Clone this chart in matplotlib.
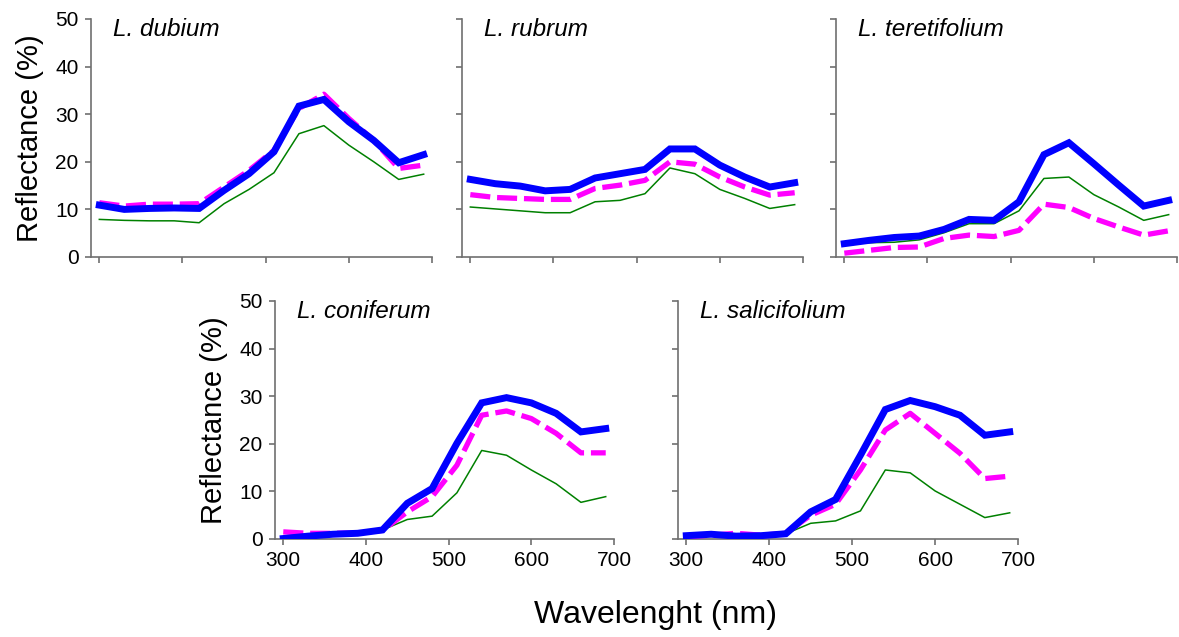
import matplotlib
matplotlib.use("Agg")
import matplotlib.pyplot as plt

plt.rcParams["font.family"] = ["Liberation Sans", "DejaVu Sans"]

wavelength = [300, 330, 360, 390, 420, 450, 480, 510, 540, 570, 600, 630, 660, 690]

species = ["L. dubium", "L. rubrum", "L. teretifolium", "L. coniferum", "L. salicifolium"]

# series per species: thick blue, dashed magenta, thin green
blue = [
    [10.9, 10.0, 10.2, 10.3, 10.2, 14.0, 17.5, 22.1, 31.7, 33.1, 28.4, 24.5, 19.8, 21.5],
    [16.3, 15.4, 14.9, 13.9, 14.2, 16.6, 17.5, 18.4, 22.7, 22.7, 19.3, 16.8, 14.7, 15.6],
    [2.8, 3.5, 4.1, 4.4, 5.8, 7.9, 7.7, 11.6, 21.5, 24.0, 19.6, 15.1, 10.7, 11.9],
    [0.1, 0.6, 1.0, 1.2, 1.9, 7.5, 10.6, 20.1, 28.6, 29.7, 28.6, 26.4, 22.5, 23.2],
    [0.7, 1.0, 0.6, 0.7, 1.1, 5.7, 8.3, 17.6, 27.2, 29.1, 27.8, 26.0, 21.8, 22.5],
]
magenta = [
    [11.4, 10.7, 11.1, 11.1, 11.2, 14.7, 18.2, 22.4, 31.2, 34.2, 29.1, 24.5, 18.6, 19.3],
    [13.1, 12.5, 12.3, 12.1, 12.1, 14.4, 15.1, 16.1, 20.0, 19.5, 16.8, 14.7, 13.0, 13.5],
    [0.8, 1.4, 2.0, 2.1, 3.9, 4.6, 4.3, 5.6, 11.1, 10.4, 8.1, 6.3, 4.6, 5.5],
    [1.5, 1.2, 1.2, 1.3, 1.8, 5.7, 8.9, 15.5, 26.0, 26.9, 25.3, 22.2, 18.1, 18.1],
    [0.5, 0.8, 1.2, 0.8, 1.2, 5.0, 7.3, 14.5, 22.9, 26.4, 22.2, 18.0, 12.7, 13.2],
]
green = [
    [7.9, 7.7, 7.6, 7.6, 7.2, 11.2, 14.2, 17.7, 25.9, 27.6, 23.5, 20.0, 16.3, 17.4],
    [10.5, 10.1, 9.7, 9.3, 9.3, 11.6, 11.9, 13.3, 18.7, 17.5, 14.2, 12.3, 10.2, 11.0],
    [2.8, 3.0, 3.1, 3.6, 5.1, 7.0, 7.0, 9.7, 16.5, 16.8, 13.1, 10.5, 7.7, 8.9],
    [0.1, 0.6, 1.0, 1.2, 1.9, 4.1, 4.8, 9.7, 18.6, 17.6, 14.5, 11.6, 7.7, 8.9],
    [0.5, 0.6, 0.5, 0.6, 1.1, 3.3, 3.8, 5.9, 14.5, 13.9, 10.1, 7.3, 4.5, 5.5],
]

x_ticks = [300, 400, 500, 600, 700]
y_ticks = [0, 10, 20, 30, 40, 50]

W, H = 1179, 637
fig = plt.figure(figsize=(W / 100, H / 100), dpi=100)

# axes boxes in pixels: left, right, top, bottom
boxes = [
    (91, 432, 19, 257),
    (462, 803, 19, 257),
    (836, 1177, 19, 257),
    (275, 614, 301, 539),
    (678, 1018, 301, 539),
]
show_ylabels = [True, False, False, True, False]
show_xlabels = [False, False, False, True, True]

for i, (l, r, t, b) in enumerate(boxes):
    ax = fig.add_axes([l / W, 1 - b / H, (r - l) / W, (b - t) / H])

    ax.plot(wavelength, green[i], color="#008000", linewidth=1.1, zorder=2)
    ax.plot(wavelength, magenta[i], color="#ff00ff", linewidth=3.8,
            linestyle=(0, (3.8, 1.3)), dash_capstyle="butt", zorder=3)
    ax.plot(wavelength, blue[i], color="#0000ff", linewidth=5.0,
            solid_joinstyle="miter", zorder=4)

    ax.set_xlim(290, 700)
    ax.set_ylim(0, 50)
    ax.set_xticks(x_ticks)
    ax.set_yticks(y_ticks)
    if not show_xlabels[i]:
        ax.set_xticklabels([])
    if not show_ylabels[i]:
        ax.set_yticklabels([])

    for s in ["top", "right"]:
        ax.spines[s].set_visible(False)
    for s in ["left", "bottom"]:
        ax.spines[s].set_color("#707070")
        ax.spines[s].set_linewidth(1.2)
    ax.tick_params(direction="out", length=4, width=1.2, color="#707070",
                   labelsize=15, labelcolor="black", pad=5)

    if show_ylabels[i]:
        ax.set_ylabel("Reflectance (%)", fontsize=21, labelpad=8)

    ax.text(0.065, 0.955, species[i], transform=ax.transAxes, fontsize=17.5,
            style="italic", ha="left", va="center")

fig.text(655 / W, 1 - 615 / H, "Wavelenght (nm)", fontsize=23,
         ha="center", va="center")

fig.savefig("out.png", dpi=100)
